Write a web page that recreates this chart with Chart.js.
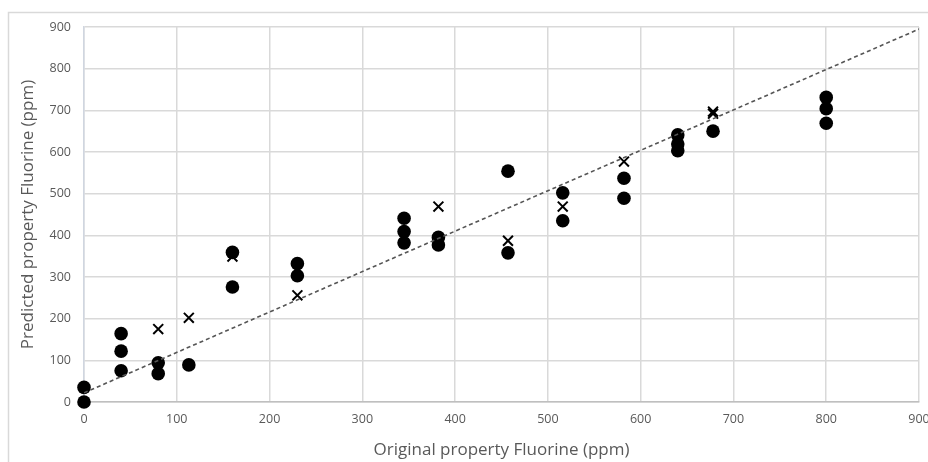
<!DOCTYPE html>
<html>
<head>
<meta charset="utf-8">
<script src="https://cdn.jsdelivr.net/npm/chart.js@4/dist/chart.umd.min.js"></script>
<style>
  html, body { margin: 0; padding: 0; background: #fff; }
  #wrap { width: 928px; height: 462px; }
</style>
</head>
<body>
<div id="wrap"><canvas id="diagram" width="928" height="462"></canvas></div>
<script>
// Measured samples (filled circles)
const circleX = [0, 0, 40, 40, 40, 80, 80, 113, 160, 160, 230, 230, 345, 345, 345, 382, 382, 457, 457, 516, 516, 582, 582, 640, 640, 640, 678, 800, 800, 800];
const circleY = [35, 0, 164, 122, 75, 94, 68, 89, 359, 276, 332, 303, 441, 409, 382, 395, 377, 554, 358, 502, 435, 537, 489, 641, 619, 603, 650, 731, 704, 669];

// Second set (crosses)
const crossX = [80, 113, 160, 230, 382, 457, 516, 582, 678, 678];
const crossY = [175, 202, 349, 256, 469, 387, 469, 577, 697, 692];

// Linear trend line end points
const trendX = [0, 900];
const trendY = [22, 895];

const axisMax = 900;
const axisStep = 100;

const grey = '#595959';

function toPoints(xs, ys) {
    return xs.map((x, i) => ({ x: x, y: ys[i] }));
}

// Light frame around the whole chart
const framePlugin = {
    id: 'frame',
    beforeDraw(chart) {
        const ctx = chart.ctx;
        ctx.save();
        ctx.strokeStyle = '#d9d9d9';
        ctx.lineWidth = 1.5;
        ctx.strokeRect(8.5, 12.5, 960, 480);
        ctx.restore();
    }
};

const ctx = document.getElementById('diagram').getContext('2d');

new Chart(ctx, {
    type: 'scatter',
    data: {
        datasets: [
            {
                type: 'line',
                label: 'Trend',
                data: toPoints(trendX, trendY),
                borderColor: '#555',
                borderWidth: 1.6,
                borderDash: [4, 3],
                pointRadius: 0,
                fill: false,
                order: 0
            },
            {
                label: 'Cross',
                data: toPoints(crossX, crossY),
                pointStyle: 'crossRot',
                pointRadius: 7,
                borderColor: '#000',
                borderWidth: 2,
                clip: false,
                order: 1
            },
            {
                label: 'Circle',
                data: toPoints(circleX, circleY),
                pointStyle: 'circle',
                pointRadius: 6.8,
                backgroundColor: '#000',
                borderColor: '#000',
                borderWidth: 0,
                clip: false,
                order: 2
            }
        ]
    },
    options: {
        responsive: false,
        animation: false,
        layout: { padding: { left: 12, top: 27, right: 8, bottom: 0 } },
        plugins: {
            legend: { display: false },
            tooltip: { enabled: false }
        },
        scales: {
            x: {
                type: 'linear',
                min: 0,
                max: axisMax,
                afterFit(scale) {
                    scale.height = 60;
                    scale.paddingLeft = 0;
                    scale.paddingRight = 0;
                },
                grid: { color: '#d9d9d9', lineWidth: 1.5, drawTicks: false },
                border: { color: '#bfbfbf', width: 1.5 },
                ticks: {
                    stepSize: axisStep,
                    padding: 10,
                    color: grey,
                    maxRotation: 0,
                    font: { family: 'Open Sans', size: 12.5 }
                },
                title: {
                    display: true,
                    text: 'Original property Fluorine (ppm)',
                    color: grey,
                    font: { family: 'Open Sans', size: 17 },
                    padding: { top: 0, bottom: 2 }
                }
            },
            y: {
                type: 'linear',
                min: 0,
                max: axisMax,
                afterFit(scale) {
                    scale.width = 72;
                    scale.paddingTop = 0;
                    scale.paddingBottom = 0;
                },
                grid: { color: '#d9d9d9', lineWidth: 1.5, drawTicks: false },
                border: { color: '#d0d6e0', width: 1.5 },
                ticks: {
                    stepSize: axisStep,
                    padding: 13,
                    color: grey,
                    font: { family: 'Open Sans', size: 12.5 }
                },
                title: {
                    display: true,
                    text: 'Predicted property Fluorine (ppm)',
                    color: grey,
                    font: { family: 'Open Sans', size: 17 },
                    padding: { top: 6, bottom: 0 }
                }
            }
        }
    },
    plugins: [framePlugin]
});
</script>
</body>
</html>
